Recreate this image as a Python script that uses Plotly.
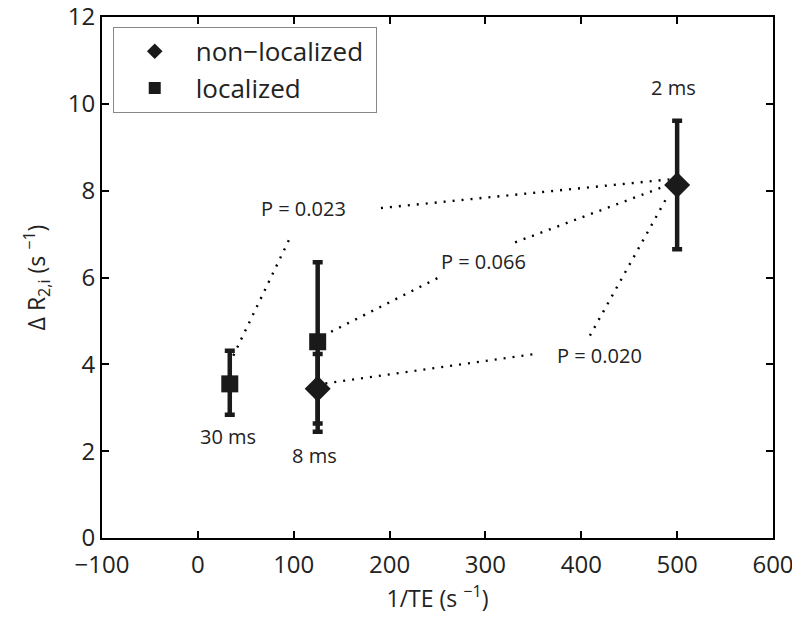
import plotly.graph_objects as go

# Data
nonloc_x = [125, 500]
nonloc_y = [3.44, 8.13]
nonloc_err_plus = [0.80, 1.48]
nonloc_err_minus = [0.80, 1.48]

loc_x = [33.3, 125]
loc_y = [3.55, 4.52]
loc_err_plus = [0.76, 1.83]
loc_err_minus = [0.71, 2.07]

# P-value connector segments (data coords): each is ([x0, x1], [y0, y1])
p_segments = [
    ([37, 98], [4.2, 7.0]),
    ([191, 492], [7.6, 8.26]),
    ([139, 262], [4.75, 6.12]),
    ([331, 487], [6.81, 8.1]),
    ([133, 352], [3.56, 4.24]),
    ([409, 490], [4.66, 7.87]),
]
p_labels = ["P = 0.023", "P = 0.066", "P = 0.020"]
p_label_x = [110, 298, 419]
p_label_y = [7.6, 6.38, 4.2]

te_labels = ["2 ms", "30 ms", "8 ms"]
te_label_x = [496, 31, 122]
te_label_y = [10.37, 2.34, 1.9]

FONT = "Open Sans"
TXT = "#222"

fig = go.Figure()

for sx, sy in p_segments:
    fig.add_trace(go.Scatter(x=sx, y=sy, mode="lines", showlegend=False, hoverinfo="skip",
                             line=dict(color="black", width=2.4, dash="2px,7px")))

fig.add_trace(go.Scatter(
    x=nonloc_x, y=nonloc_y, mode="markers", name="non\u2212localized\u00a0",
    marker=dict(symbol="diamond", size=20, color="#1a1a1a"),
    error_y=dict(type="data", symmetric=False, array=nonloc_err_plus, arrayminus=nonloc_err_minus,
                 color="#1a1a1a", thickness=4.5, width=5)))
fig.add_trace(go.Scatter(
    x=loc_x, y=loc_y, mode="markers", name="localized",
    marker=dict(symbol="square", size=17, color="#1a1a1a"),
    error_y=dict(type="data", symmetric=False, array=loc_err_plus, arrayminus=loc_err_minus,
                 color="#1a1a1a", thickness=4.5, width=5)))

for t, x, y in zip(p_labels, p_label_x, p_label_y):
    fig.add_annotation(x=x, y=y, text=t, showarrow=False, font=dict(family=FONT, size=20, color=TXT),
                       bgcolor="white")
for t, x, y in zip(te_labels, te_label_x, te_label_y):
    fig.add_annotation(x=x, y=y, text=t, showarrow=False, font=dict(family=FONT, size=20, color=TXT))

axis_common = dict(showline=True, linecolor="black", linewidth=2, mirror="ticks",
                   ticks="inside", ticklen=7, tickwidth=2, tickcolor="black",
                   showgrid=False, zeroline=False, automargin=False,
                   ticklabeloverflow="allow",
                   tickfont=dict(family=FONT, size=24, color=TXT))

fig.update_xaxes(range=[-100, 600], dtick=100, tickformat="d", ticklabelstandoff=4,
                 title=dict(text="1/TE (s <sup>\u22121</sup>)", font=dict(family=FONT, size=23, color=TXT), standoff=12),
                 **axis_common)
fig.update_yaxes(range=[0, 12], dtick=2,
                 title=dict(text="\u0394 R<sub>2,i</sub> (s <sup>\u22121</sup>)", font=dict(family=FONT, size=23, color=TXT), standoff=16),
                 **axis_common)

# page body has an 8px margin, so the figure is 8px smaller and margins are shifted
fig.update_layout(
    width=792, height=611,
    margin=dict(l=94, r=27, t=9, b=81),
    plot_bgcolor="white", paper_bgcolor="white",
    font=dict(family=FONT, color=TXT),
    legend=dict(x=0.016, y=0.981, xanchor="left", yanchor="top",
                bordercolor="#888", borderwidth=1, bgcolor="white",
                font=dict(family=FONT, size=26, color=TXT),
                itemsizing="constant", itemwidth=72, tracegroupgap=0),
)

fig.write_html("out.html")
